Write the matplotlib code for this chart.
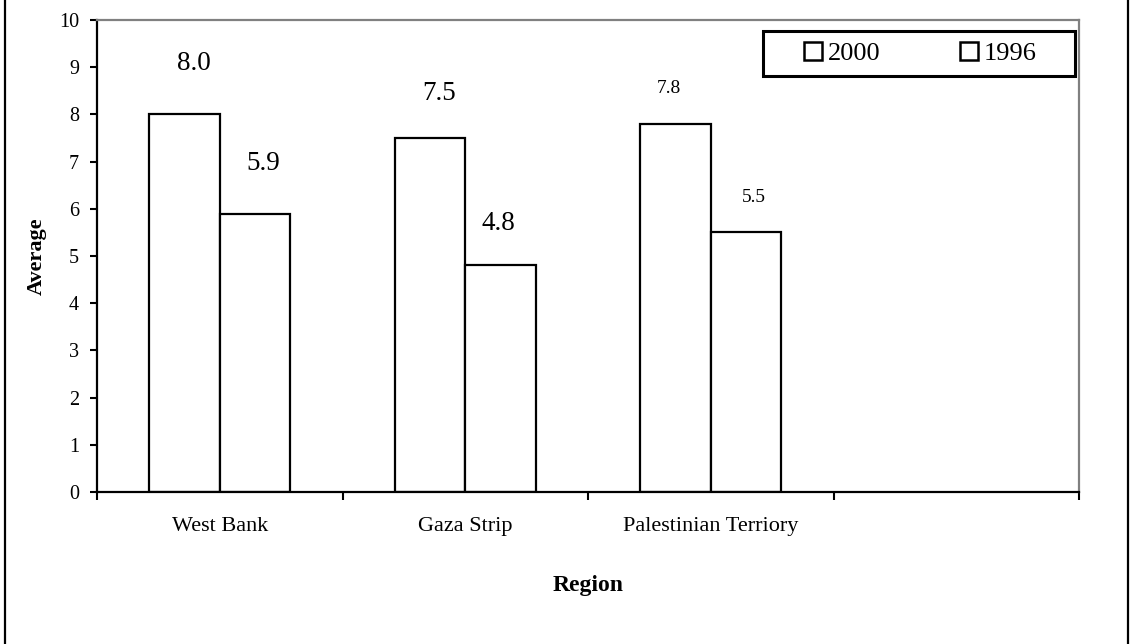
import matplotlib
matplotlib.use("Agg")
import matplotlib.pyplot as plt
from matplotlib.patches import Rectangle
from matplotlib.lines import Line2D
import numpy as np

plt.rcParams['font.family'] = ['Liberation Serif', 'DejaVu Serif']

# data
regions = ["West Bank", "Gaza Strip", "Palestinian Terriory", ""]
avg_2000 = [8.0, 7.5, 7.8]
avg_1996 = [5.9, 4.8, 5.5]
series_names = ["2000", "1996"]
yticks = list(range(0, 11))

# label placement tweaks (pixels) per series, per region
label_dx = [[9, 9, -7], [8, -2, 8]]
label_dy = [[51, 45, 35], [50, 42, 35]]
label_size = [19.5, 19.5, 14]

fig = plt.figure(figsize=(11.35, 6.44), dpi=100)
ax = fig.add_axes([97 / 1135, 152 / 644, 982 / 1135, 472 / 644])

w = 0.287
x = np.arange(len(avg_2000))
b1 = ax.bar(x - w / 2, avg_2000, w, facecolor="white", edgecolor="black", linewidth=1.6)
b2 = ax.bar(x + w / 2, avg_1996, w, facecolor="white", edgecolor="black", linewidth=1.6)

for k, (bars, vals) in enumerate(((b1, avg_2000), (b2, avg_1996))):
    for i, (r, v) in enumerate(zip(bars, vals)):
        ax.annotate("%.1f" % v, (r.get_x() + r.get_width() / 2, v),
                    xytext=(label_dx[k][i], label_dy[k][i]), textcoords="offset pixels",
                    ha="center", va="center", fontsize=label_size[i])

ax.set_xlim(-0.5, len(regions) - 0.5)
ax.set_ylim(0, 10)
ax.set_yticks(yticks)
ax.tick_params(axis="y", labelsize=14.5, length=5, width=1.5, direction="out", pad=8)

ax.set_xticks(np.arange(len(regions) + 1) - 0.5)
ax.set_xticklabels([])
ax.tick_params(axis="x", which="major", length=6, width=1.5, direction="out")
ax.set_xticks(np.arange(len(regions)), minor=True)
ax.set_xticklabels(regions, minor=True, fontsize=16)
ax.tick_params(axis="x", which="minor", length=0, pad=18)

for s in ("left", "bottom"):
    ax.spines[s].set_color("black")
    ax.spines[s].set_linewidth(1.6)
for s in ("top", "right"):
    ax.spines[s].set_color("#808080")
    ax.spines[s].set_linewidth(1.6)

ax.set_xlabel("Region", fontsize=17, fontweight="bold", labelpad=28)
ax.set_ylabel("Average", fontsize=16, fontweight="bold", labelpad=9)

handles = [Line2D([], [], marker="s", linestyle="none", markersize=13,
                  markerfacecolor="white", markeredgecolor="black", markeredgewidth=1.8)
           for _ in series_names]
leg = ax.legend(handles, series_names, loc="center", ncol=2,
                bbox_to_anchor=(920 / 1135, 1 - 53.5 / 644), bbox_transform=fig.transFigure,
                borderaxespad=0, fontsize=19, frameon=False,
                handlelength=0.7, handletextpad=0.2, columnspacing=3.0,
                borderpad=0.2)

# legend frame, as in the original it is wider than its entries
fig.add_artist(Rectangle((763 / 1135, 1 - 76 / 644), 312 / 1135, 45 / 644,
                         transform=fig.transFigure, facecolor="none",
                         edgecolor="black", linewidth=2.2))

# outer frame lines at left and right edge
fig.add_artist(Line2D([5 / 1135, 5 / 1135], [0, 1], color="black", lw=1.6))
fig.add_artist(Line2D([1128 / 1135, 1128 / 1135], [0, 1], color="black", lw=1.6))

fig.savefig("out.png", dpi=100)
